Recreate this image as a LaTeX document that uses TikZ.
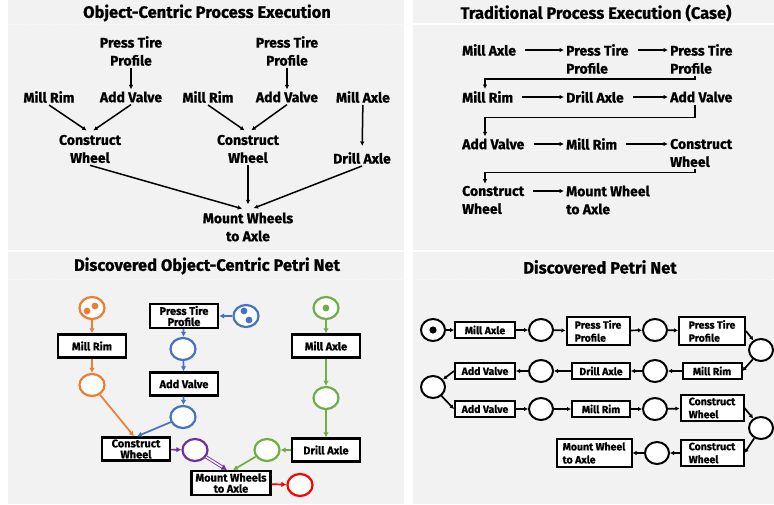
\documentclass[tikz,border=0pt]{standalone}
\usepackage{fontspec}
\setmainfont{Fira Sans}[BoldFeatures={FakeBold=0.8}]
\usetikzlibrary{arrows.meta,shapes.geometric,positioning,calc}

\definecolor{panelgray}{HTML}{F2F2F2}
\definecolor{ocorange}{HTML}{ED7D31}
\definecolor{ocblue}{HTML}{4472C4}
\definecolor{ocgreen}{HTML}{70AD47}
\definecolor{ocpurple}{HTML}{7030A0}
\definecolor{ocred}{HTML}{FF0000}

\tikzset{
  paneltitle/.style={font=\fontsize{16.5}{18}\selectfont\bfseries},
  act/.style={font=\fontsize{14}{18}\selectfont\bfseries, align=center, inner sep=2pt},
  actl/.style={font=\fontsize{14}{18}\selectfont\bfseries, align=left, inner sep=2pt, anchor=west},
  flow/.style={line width=1.5pt, -{Latex[length=4.5pt,width=4.5pt]}},
  trans/.style={draw, line width=2.4pt, fill=white, font=\fontsize{11}{13}\selectfont\bfseries,
    align=center, minimum width=68pt, minimum height=23pt, inner sep=2pt},
  place/.style={ellipse, draw, line width=2.2pt, fill=white, minimum width=25pt, minimum height=22pt, inner sep=0pt},
  arc/.style={line width=1.7pt, -{Latex[length=5pt,width=5.5pt]}},
  strans/.style={draw, line width=2pt, fill=white, font=\fontsize{10.5}{13}\selectfont\bfseries,
    align=left, inner xsep=5pt, inner ysep=3pt, minimum height=16pt},
  splace/.style={ellipse, draw, line width=2pt, fill=white, minimum width=24pt, minimum height=22pt, inner sep=0pt},
  sarc/.style={line width=1.7pt, -{Latex[length=4pt,width=4.5pt]}},
}

\begin{document}
\begin{tikzpicture}[x=1pt,y=-1pt]
  \useasboundingbox (0,0) rectangle (774,504);
  \fill[white] (0,0) rectangle (774,504);

  % four panels
  \fill[panelgray] (8,0) rectangle (404,250);
  \fill[panelgray] (413,0) rectangle (774,250);
  \fill[panelgray] (8,252) rectangle (404,504);
  \fill[panelgray] (413,252) rectangle (774,504);
  \draw[white, line width=1pt, dotted] (8,24) -- (404,24);
  \draw[white, line width=1.2pt] (413,24) -- (774,24);
  \draw[white, line width=1pt, dotted] (8,279) -- (404,279);
  \draw[white, line width=1pt, dotted] (413,279) -- (774,279);

  \node[paneltitle] (tA) at (207,13) {Object-Centric Process Execution};
  \node[paneltitle] (tB) at (596,13) {Traditional Process Execution (Case)};
  \node[paneltitle] (tC) at (207,266) {Discovered Object-Centric Petri Net};
  \node[paneltitle] (tD) at (600,267) {Discovered Petri Net};

  % Object-centric execution
  \node[act] (ptp1) at (131,51) {Press Tire\\Profile};
  \node[act] (ptp2) at (287,51) {Press Tire\\Profile};
  \node[act] (mr1) at (49,97) {Mill Rim};
  \node[act] (av1) at (131,97) {Add Valve};
  \node[act] (mr2) at (208,97) {Mill Rim};
  \node[act] (av2) at (287,97) {Add Valve};
  \node[act] (ma) at (363,97) {Mill Axle};
  \node[act] (cw1) at (90,149) {Construct\\Wheel};
  \node[act] (cw2) at (248,149) {Construct\\Wheel};
  \node[act] (da) at (362,158) {Drill Axle};
  \node[act] (mw) at (248,227) {Mount Wheels\\to Axle};

  \draw[flow] (ptp1) -- (av1);
  \draw[flow] (ptp2) -- (av2);
  \draw[flow, shorten >=4pt] (mr1.south) -- (cw1.north);
  \draw[flow, shorten >=4pt] (av1.south) -- (cw1.north);
  \draw[flow, shorten >=4pt] (mr2.south) -- (cw2.north);
  \draw[flow, shorten >=4pt] (av2.south) -- (cw2.north);
  \draw[flow, shorten >=4pt] (ma) -- (da);
  \draw[flow, shorten >=6pt] (cw1.south) -- (mw.north);
  \draw[flow, shorten >=6pt] (cw2.south) -- (mw.north);
  \draw[flow, shorten >=6pt] (da.south) -- (mw.north);

  % Case execution
  \node[actl] (c1) at (460,50) {Mill Axle};
  \node[actl] (c2) at (564,59) {Press Tire\\Profile};
  \node[actl] (c3) at (668,59) {Press Tire\\Profile};
  \node[actl] (c4) at (460,97) {Mill Rim};
  \node[actl] (c5) at (564,97) {Drill Axle};
  \node[actl] (c6) at (668,97) {Add Valve};
  \node[actl] (c7) at (460,144) {Add Valve};
  \node[actl] (c8) at (564,144) {Mill Rim};
  \node[actl] (c9) at (668,153) {Construct\\Wheel};
  \node[actl] (c10) at (460,200) {Construct\\Wheel};
  \node[actl] (c11) at (564,200) {Mount Wheel\\to Axle};

  \draw[flow, shorten <=7pt] (c1.east) -- (c2.west |- c1.east);
  \draw[flow, shorten <=7pt] ([yshift=9pt]c2.east) -- (c3.west |- c1.east);
  \draw[flow, shorten <=7pt] (c4.east) -- (c5.west |- c4.east);
  \draw[flow, shorten <=7pt] (c5.east) -- (c6.west |- c5.east);
  \draw[flow, shorten <=7pt] (c7.east) -- (c8.west |- c7.east);
  \draw[flow, shorten <=7pt] (c8.east) -- (c9.west |- c8.east);
  \draw[flow, shorten <=7pt] ([yshift=9pt]c10.east) -- ([yshift=9pt]c10.east -| c11.west);
  \draw[flow] ([xshift=27pt]c3.south west) -- ++(0,3) -| ([xshift=25pt]c4.north west);
  \draw[flow] ([xshift=27pt]c6.south west) -- ++(0,13) -| ([xshift=25pt]c7.north west);
  \draw[flow] ([xshift=27pt]c9.south west) -- ++(0,3) -| ([xshift=25pt]c10.north west);

  % Object-centric Petri net
  \node[place, draw=ocorange] (o1) at (92,308) {};
  \node[trans] (tmr) at (92,346) {Mill Rim};
  \node[place, draw=ocorange] (o2) at (92,385) {};
  \node[trans] (tptp) at (184,316) {Press Tire\\[-2pt]Profile};
  \node[place, draw=ocblue] (b1) at (246,316) {};
  \node[place, draw=ocblue] (b2) at (183,349) {};
  \node[trans] (tav) at (184,384) {Add Valve};
  \node[place, draw=ocblue] (b3) at (183,417) {};
  \node[trans] (tcw) at (136,449) {Construct\\[-2pt]Wheel};
  \node[place, draw=ocpurple] (pu) at (195,450) {};
  \node[trans, minimum width=79pt] (tmw) at (231,483) {Mount Wheels\\[-2pt]to Axle};
  \node[place, draw=ocred] (rd) at (300,485) {};
  \node[place, draw=ocgreen] (g1) at (326,308) {};
  \node[trans] (tma) at (326,346) {Mill Axle};
  \node[place, draw=ocgreen] (g2) at (326,398) {};
  \node[trans] (tda) at (326,450) {Drill Axle};
  \node[place, draw=ocgreen] (g3) at (267,450) {};

  \fill[ocorange] (87,311) circle (3.4pt) (95,306) circle (3.4pt);
  \fill[ocblue] (244,311) circle (3.4pt) (249,320) circle (3.4pt);
  \fill[ocgreen] (326,308) circle (3.4pt);

  \draw[arc, ocorange] (o1) -- (tmr);
  \draw[arc, ocorange] (tmr) -- (o2);
  \draw[arc, ocorange] (o2) -- ([xshift=-2pt]tcw.north);
  \draw[arc, ocblue] (b1) -- (tptp);
  \draw[arc, ocblue] (tptp) -- (b2);
  \draw[arc, ocblue] (b2) -- (tav);
  \draw[arc, ocblue] (tav) -- (b3);
  \draw[arc, ocblue] (b3) -- ([xshift=1pt]tcw.north);
  \draw[arc, ocpurple] (tcw) -- (pu);
  \draw[ocpurple, line width=0.9pt, double=white, double distance=1.5pt,
        -{Latex[length=5.5pt,width=6.5pt]}] (pu) -- ([xshift=-4pt]tmw.north);
  \draw[arc, ocred] (tmw) -- (rd);
  \draw[arc, ocgreen] (g1) -- (tma);
  \draw[arc, ocgreen] (tma) -- (g2);
  \draw[arc, ocgreen] (g2) -- (tda);
  \draw[arc, ocgreen] (tda) -- (g3);
  \draw[arc, ocgreen] (g3) -- ([xshift=2pt]tmw.north);

  % Flat Petri net
  \node[splace] (s0) at (433,330) {};
  \fill (433,330) circle (3.6pt);
  \node[strans, minimum width=60pt] (r1) at (485,330) {Mill Axle};
  \node[splace] (s1) at (541,330) {};
  \node[strans, minimum width=63pt] (r2) at (598,331) {Press Tire\\Profile};
  \node[splace] (s2) at (655,330) {};
  \node[strans, minimum width=66pt] (r3) at (712,331) {Press Tire\\Profile};
  \node[splace] (s3) at (761,350) {};
  \node[strans, minimum width=59pt] (r4) at (712,371) {Mill Rim};
  \node[splace] (s4) at (655,371) {};
  \node[strans, minimum width=58pt] (r5) at (601,371) {Drill Axle};
  \node[splace] (s5) at (541,371) {};
  \node[strans, minimum width=60pt] (r6) at (485,371) {Add Valve};
  \node[splace] (s6) at (433,387) {};
  \node[strans, minimum width=60pt] (r7) at (485,409) {Add Valve};
  \node[splace] (s7) at (541,409) {};
  \node[strans, minimum width=58pt] (r8) at (601,409) {Mill Rim};
  \node[splace] (s8) at (655,409) {};
  \node[strans, minimum width=63pt] (r9) at (712,408) {Construct\\Wheel};
  \node[splace] (s9) at (761,428) {};
  \node[strans, minimum width=63pt] (r10) at (712,453) {Construct\\Wheel};
  \node[splace] (s10) at (657,453) {};
  \node[strans, minimum width=75pt] (r11) at (594,453) {Mount Wheel\\to Axle};

  \draw[sarc] (s0) -- (r1);
  \draw[sarc] (r1) -- (s1);
  \draw[sarc] (s1) -- (r2);
  \draw[sarc] (r2) -- (s2);
  \draw[sarc] (s2) -- (r3);
  \draw[sarc] (r3.east) -- (s3);
  \draw[sarc] (s3) -- (r4.east);
  \draw[sarc] (r4) -- (s4);
  \draw[sarc] (s4) -- (r5);
  \draw[sarc] (r5) -- (s5);
  \draw[sarc] (s5) -- (r6);
  \draw[sarc] (r6.west) -- (s6);
  \draw[sarc] (s6) -- (r7.west);
  \draw[sarc] (r7) -- (s7);
  \draw[sarc] (s7) -- (r8);
  \draw[sarc] (r8) -- (s8);
  \draw[sarc] (s8) -- (r9);
  \draw[sarc] (r9.east) -- (s9);
  \draw[sarc] (s9) -- (r10.east);
  \draw[sarc] (r10) -- (s10);
  \draw[sarc] (s10) -- (r11);
\end{tikzpicture}
\end{document}
